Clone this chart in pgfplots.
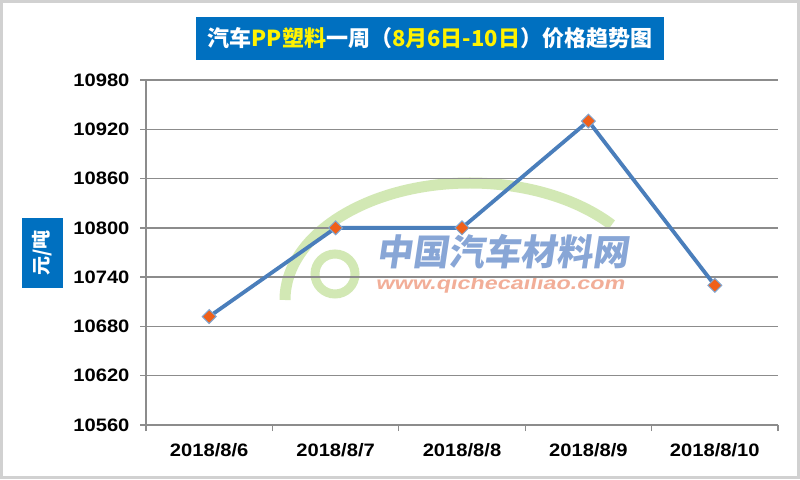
\documentclass[border=0pt]{standalone}
\usepackage{pgfplots}
\pgfplotsset{compat=1.18}
\usepackage{fontspec}
\setmainfont{Liberation Sans}[FakeStretch=1.12]
\newfontfamily\cjk{Noto Sans CJK SC}
\newfontfamily\cjkwm{Noto Sans CJK SC}[FakeSlant=0.15]
\newfontfamily\urlfont{Liberation Sans}[FakeSlant=0.2,FakeStretch=1.3]
\definecolor{titleblue}{HTML}{0070C0}
\definecolor{lineblue}{HTML}{4A7EBB}
\definecolor{mkorange}{HTML}{F0601A}
\definecolor{gridgray}{HTML}{8C8C8C}
\definecolor{wmgreen}{HTML}{D2E8B4}
\definecolor{wmblue}{HTML}{88A6D6}
\definecolor{wmred}{HTML}{F2AE98}
\begin{document}
\begin{tikzpicture}[x=1pt,y=1pt]
\fill[white] (0,0) rectangle (800,479);
\draw[black!18, line width=3pt] (1.5,1.5) rectangle (798.5,477.5);
\path[use as bounding box] (0,0) rectangle (800,479);
% watermark (decoration)
\draw[wmgreen, line width=11pt] (285,179) arc[start angle=180, end angle=40, x radius=185, y radius=117];
\draw[wmgreen, line width=9pt] (335,205) circle (20);
\node[text=wmblue] at (502,227) {\cjkwm\bfseries\fontsize{36}{36}\selectfont 中国汽车材料网};
\node[text=wmred] at (500,194) {\urlfont\bfseries\fontsize{18}{18}\selectfont www.qichecailiao.com};
\begin{axis}[
  at={(146pt,54pt)}, anchor=south west,
  scale only axis, width=632pt, height=345pt,
  xmin=-0.5, xmax=4.5, ymin=10560, ymax=10980,
  ytick={10560,10620,10680,10740,10800,10860,10920,10980},
  scaled ticks=false,
  xtick={-0.5,0.5,1.5,2.5,3.5,4.5},
  x tick label as interval,
  xticklabels={2018/8/6,2018/8/7,2018/8/8,2018/8/9,2018/8/10},
  axis x line=bottom, axis y line=left,
  axis line style={gridgray, line width=1.3pt, -},
  ymajorgrids, grid style={gridgray, line width=1.3pt},
  tick style={gridgray, line width=1.3pt},
  tick align=outside, major tick length=6pt,
  /pgf/number format/assume math mode=true,
  /pgf/number format/1000 sep={},
  yticklabel style={font=\fontsize{18}{18}\selectfont\bfseries, xshift=-7pt},
  xticklabel style={font=\fontsize{18}{18}\selectfont\bfseries, yshift=-9pt},
  clip=false,
]
\addplot[lineblue, line width=3.8pt, mark=square*, mark size=4.9pt,
  mark options={rotate=45, fill=mkorange, draw=lineblue!70, line width=1pt}]
  coordinates {(0,10692) (1,10800) (2,10800) (3,10930) (4,10730)};
\end{axis}
\node[fill=titleblue, minimum width=468pt, minimum height=43pt, inner sep=0pt] at (430,440.5)
  {\cjk\bfseries\fontsize{22}{22}\selectfont\color{white}汽车\textcolor{yellow}{PP塑料}一周（\textcolor{yellow}{8月6日-10日}）价格趋势图};
\node[fill=titleblue, rotate=90, minimum width=70pt, minimum height=41pt, inner sep=0pt] at (42.5,226)
  {\cjk\bfseries\fontsize{19}{19}\selectfont\color{white}元/吨};
\end{tikzpicture}
\end{document}
